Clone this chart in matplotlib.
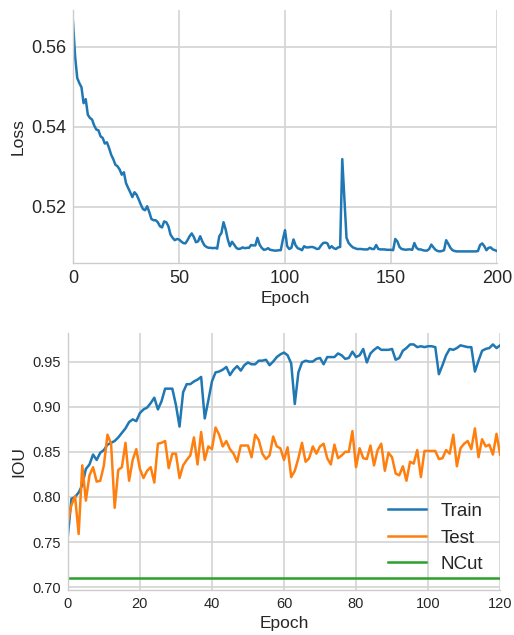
import matplotlib
matplotlib.use("Agg")
import matplotlib.pyplot as plt
import numpy as np

# ---------------- data ----------------
loss_epochs = list(range(0, 201))
loss = [
    0.5663, 0.5576, 0.5522, 0.5509, 0.5499, 0.5459, 0.5469, 0.5430, 0.5422, 0.5418,
    0.5403, 0.5393, 0.5391, 0.5376, 0.5372, 0.5358, 0.5361, 0.5347, 0.5330, 0.5319,
    0.5305, 0.5301, 0.5293, 0.5280, 0.5286, 0.5259, 0.5247, 0.5236, 0.5224, 0.5236,
    0.5230, 0.5218, 0.5205, 0.5194, 0.5191, 0.5201, 0.5186, 0.5169, 0.5166, 0.5166,
    0.5161, 0.5151, 0.5148, 0.5163, 0.5161, 0.5151, 0.5130, 0.5122, 0.5116, 0.5119,
    0.5118, 0.5113, 0.5109, 0.5108, 0.5116, 0.5126, 0.5133, 0.5124, 0.5111, 0.5113,
    0.5126, 0.5113, 0.5103, 0.5099, 0.5097, 0.5097, 0.5096, 0.5097, 0.5095, 0.5126,
    0.5134, 0.5161, 0.5143, 0.5118, 0.5101, 0.5112, 0.5105, 0.5097, 0.5094, 0.5095,
    0.5098, 0.5096, 0.5097, 0.5097, 0.5104, 0.5103, 0.5103, 0.5122, 0.5105, 0.5097,
    0.5092, 0.5093, 0.5096, 0.5092, 0.5091, 0.5090, 0.5090, 0.5091, 0.5091, 0.5118,
    0.5141, 0.5101, 0.5094, 0.5097, 0.5118, 0.5103, 0.5096, 0.5094, 0.5091, 0.5101,
    0.5098, 0.5098, 0.5099, 0.5099, 0.5097, 0.5094, 0.5095, 0.5103, 0.5109, 0.5110,
    0.5108, 0.5096, 0.5101, 0.5096, 0.5094, 0.5098, 0.5099, 0.5319, 0.5218, 0.5122,
    0.5109, 0.5103, 0.5098, 0.5096, 0.5094, 0.5094, 0.5094, 0.5093, 0.5093, 0.5093,
    0.5097, 0.5094, 0.5094, 0.5104, 0.5094, 0.5093, 0.5093, 0.5093, 0.5092, 0.5092,
    0.5092, 0.5091, 0.5119, 0.5113, 0.5099, 0.5094, 0.5093, 0.5092, 0.5093, 0.5093,
    0.5092, 0.5109, 0.5097, 0.5093, 0.5093, 0.5091, 0.5090, 0.5090, 0.5094, 0.5105,
    0.5098, 0.5092, 0.5089, 0.5088, 0.5089, 0.5091, 0.5116, 0.5107, 0.5097, 0.5091,
    0.5089, 0.5088, 0.5088, 0.5088, 0.5088, 0.5088, 0.5088, 0.5088, 0.5088, 0.5088,
    0.5088, 0.5089, 0.5104, 0.5108, 0.5101, 0.5091, 0.5097, 0.5098, 0.5093, 0.5091,
    0.5089,
]

iou_epochs = list(range(0, 121))
train_iou = [
    0.757, 0.798, 0.800, 0.805, 0.813, 0.831, 0.836, 0.847, 0.841, 0.849,
    0.852, 0.858, 0.860, 0.862, 0.866, 0.871, 0.876, 0.883, 0.886, 0.884,
    0.893, 0.897, 0.899, 0.904, 0.910, 0.897, 0.906, 0.920, 0.920, 0.920,
    0.902, 0.878, 0.916, 0.925, 0.925, 0.928, 0.930, 0.933, 0.887, 0.907,
    0.928, 0.938, 0.939, 0.941, 0.944, 0.935, 0.941, 0.945, 0.940, 0.946,
    0.949, 0.947, 0.947, 0.951, 0.951, 0.952, 0.946, 0.950, 0.955, 0.958,
    0.960, 0.957, 0.948, 0.903, 0.938, 0.949, 0.951, 0.950, 0.950, 0.953,
    0.954, 0.947, 0.955, 0.955, 0.955, 0.959, 0.957, 0.953, 0.954, 0.961,
    0.955, 0.957, 0.964, 0.949, 0.959, 0.963, 0.966, 0.963, 0.963, 0.963,
    0.964, 0.952, 0.954, 0.962, 0.965, 0.969, 0.969, 0.966, 0.967, 0.966,
    0.967, 0.967, 0.966, 0.936, 0.946, 0.957, 0.964, 0.963, 0.965, 0.968,
    0.967, 0.966, 0.966, 0.939, 0.951, 0.962, 0.964, 0.965, 0.969, 0.965,
    0.968,
]
test_iou = [
    0.772, 0.791, 0.801, 0.759, 0.835, 0.796, 0.824, 0.833, 0.817, 0.818,
    0.835, 0.869, 0.859, 0.788, 0.830, 0.833, 0.860, 0.818, 0.841, 0.853,
    0.831, 0.821, 0.829, 0.833, 0.816, 0.859, 0.860, 0.862, 0.832, 0.848,
    0.848, 0.821, 0.835, 0.841, 0.846, 0.866, 0.836, 0.872, 0.841, 0.856,
    0.853, 0.877, 0.869, 0.856, 0.862, 0.853, 0.848, 0.839, 0.857, 0.857,
    0.857, 0.844, 0.869, 0.863, 0.848, 0.842, 0.846, 0.867, 0.856, 0.854,
    0.841, 0.855, 0.822, 0.829, 0.843, 0.860, 0.839, 0.843, 0.856, 0.848,
    0.856, 0.859, 0.843, 0.836, 0.858, 0.843, 0.846, 0.850, 0.850, 0.873,
    0.833, 0.854, 0.843, 0.842, 0.857, 0.835, 0.852, 0.859, 0.829, 0.849,
    0.844, 0.826, 0.824, 0.834, 0.818, 0.839, 0.837, 0.852, 0.822, 0.851,
    0.851, 0.851, 0.851, 0.842, 0.843, 0.852, 0.848, 0.869, 0.834, 0.854,
    0.859, 0.862, 0.853, 0.876, 0.844, 0.864, 0.856, 0.858, 0.847, 0.870,
    0.847,
]
ncut_iou = [0.710] * len(iou_epochs)

series_labels = ["Train", "Test", "NCut"]
series_colors = ["#1f77b4", "#ff7f0e", "#2ca02c"]

# ---------------- style ----------------
plt.rcParams.update({
    "font.family": ["Liberation Sans", "DejaVu Sans"],
    "axes.edgecolor": "#cccccc",
    "axes.linewidth": 1.0,
    "grid.color": "#d3d3d3",
    "grid.linewidth": 1.2,
    "text.color": "#262626",
    "axes.labelcolor": "#262626",
    "xtick.color": "#262626",
    "ytick.color": "#262626",
    "xtick.major.size": 0,
    "ytick.major.size": 0,
})

LW = 1.8
fig = plt.figure(figsize=(5.14, 6.35), dpi=100)

# ---- top: loss ----
ax1 = fig.add_axes([0.142, 0.586, 0.825, 0.398])
ax1.plot(loss_epochs, loss, color=series_colors[0], lw=LW)
ax1.set_xlim(0, 200)
ax1.set_xticks([0, 50, 100, 150, 200])
ax1.set_yticks([0.52, 0.54, 0.56])
ax1.yaxis.set_major_formatter(matplotlib.ticker.FormatStrFormatter("%.2f"))
ax1.tick_params(labelsize=13, pad=5)
ax1.set_xlabel("Epoch", fontsize=12.5, labelpad=3)
ax1.set_ylabel("Loss", fontsize=12.5, labelpad=4)
ax1.grid(True)
ax1.set_axisbelow(True)
for s in ["top", "right"]:
    ax1.spines[s].set_visible(False)

# ---- bottom: IOU ----
ax2 = fig.add_axes([0.132, 0.071, 0.841, 0.405])
ax2.plot(iou_epochs, train_iou, color=series_colors[0], lw=LW, label=series_labels[0])
ax2.plot(iou_epochs, test_iou, color=series_colors[1], lw=LW, label=series_labels[1])
ax2.plot(iou_epochs, ncut_iou, color=series_colors[2], lw=LW, label=series_labels[2])
ax2.set_xlim(0, 120)
ax2.set_xticks([0, 20, 40, 60, 80, 100, 120])
ax2.set_yticks([0.70, 0.75, 0.80, 0.85, 0.90, 0.95])
ax2.yaxis.set_major_formatter(matplotlib.ticker.FormatStrFormatter("%.2f"))
ax2.tick_params(labelsize=10.5, pad=5)
ax2.set_xlabel("Epoch", fontsize=12.5, labelpad=4)
ax2.set_ylabel("IOU", fontsize=12.5, labelpad=4)
ax2.grid(True)
ax2.set_axisbelow(True)
for s in ["top", "right"]:
    ax2.spines[s].set_visible(False)
ax2.legend(loc="lower right", frameon=False, fontsize=13.5)

fig.savefig("out.png", dpi=100)
